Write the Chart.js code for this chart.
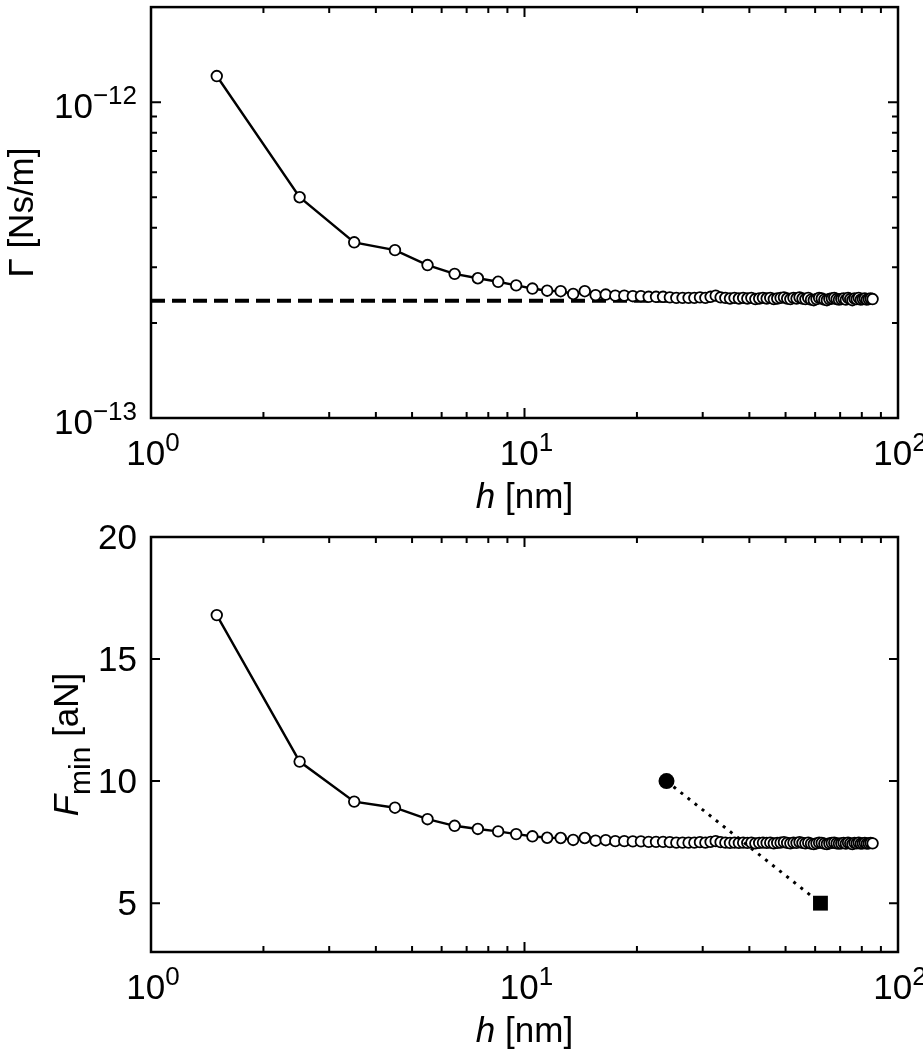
<!DOCTYPE html>
<html>
<head>
<meta charset="utf-8">
<script src="https://cdn.jsdelivr.net/npm/chart.js@4/dist/chart.umd.min.js"></script>
<style>
  html, body { margin: 0; padding: 0; background: #fff; }
  canvas { display: block; }
</style>
</head>
<body>
<canvas id="gammaChart" width="923" height="525"></canvas>
<canvas id="forceChart" width="923" height="525"></canvas>
<script>
// gap h [nm]
const hValues = [
  1.5, 2.5, 3.5, 4.5, 5.5, 6.5, 7.5, 8.5, 9.5, 10.5,
  11.5, 12.5, 13.5, 14.5, 15.5, 16.5, 17.5, 18.5, 19.5, 20.5,
  21.5, 22.5, 23.5, 24.5, 25.5, 26.5, 27.5, 28.5, 29.5, 30.5,
  31.5, 32.5, 33.5, 34.5, 35.5, 36.5, 37.5, 38.5, 39.5, 40.5,
  41.5, 42.5, 43.5, 44.5, 45.5, 46.5, 47.5, 48.5, 49.5, 50.5,
  51.5, 52.5, 53.5, 54.5, 55.5, 56.5, 57.5, 58.5, 59.5, 60.5,
  61.5, 62.5, 63.5, 64.5, 65.5, 66.5, 67.5, 68.5, 69.5, 70.5,
  71.5, 72.5, 73.5, 74.5, 75.5, 76.5, 77.5, 78.5, 79.5, 80.5,
  81.5, 82.5, 83.5, 84.5, 85.5
];

// damping Gamma, in units of 1e-13 Ns/m
const GAMMA_UNIT = 1e-13;
const gammaValues = [
  12.1, 5.00, 3.60, 3.40, 3.05, 2.86, 2.77, 2.70, 2.63, 2.57,
  2.53, 2.52, 2.47, 2.52, 2.45, 2.46, 2.44, 2.44, 2.43, 2.43,
  2.42, 2.42, 2.42, 2.41, 2.40, 2.40, 2.40, 2.40, 2.41, 2.40,
  2.42, 2.44, 2.41, 2.40, 2.39, 2.40, 2.39, 2.40, 2.39, 2.40,
  2.38, 2.39, 2.40, 2.39, 2.40, 2.38, 2.39, 2.40, 2.41, 2.39,
  2.38, 2.40, 2.39, 2.41, 2.39, 2.38, 2.40, 2.37, 2.36, 2.38,
  2.40, 2.39, 2.37, 2.36, 2.38, 2.39, 2.40, 2.38, 2.37, 2.38,
  2.39, 2.37, 2.40, 2.38, 2.36, 2.39, 2.38, 2.40, 2.37, 2.38,
  2.39, 2.37, 2.38, 2.39, 2.38
];
const gammaBulk = 2.35;
const bulkRange = [1, 87.5];

// minimum detectable force [aN]
const fminValues = [
  16.80, 10.80, 9.16, 8.91, 8.44, 8.17, 8.04, 7.94, 7.83, 7.74,
  7.68, 7.67, 7.59, 7.67, 7.56, 7.58, 7.54, 7.54, 7.53, 7.53,
  7.51, 7.51, 7.51, 7.50, 7.48, 7.48, 7.48, 7.48, 7.50, 7.48,
  7.51, 7.54, 7.50, 7.48, 7.47, 7.48, 7.47, 7.48, 7.47, 7.48,
  7.45, 7.47, 7.48, 7.47, 7.48, 7.45, 7.47, 7.48, 7.50, 7.47,
  7.45, 7.48, 7.47, 7.50, 7.47, 7.45, 7.48, 7.44, 7.42, 7.45,
  7.48, 7.47, 7.44, 7.42, 7.45, 7.47, 7.48, 7.45, 7.44, 7.45,
  7.47, 7.44, 7.48, 7.45, 7.42, 7.47, 7.45, 7.48, 7.44, 7.45,
  7.47, 7.44, 7.45, 7.47, 7.45
];
const refH = [24, 62];
const refF = [10, 5];

// ticks
const xMajorTicks = [1, 10, 100];
const xTickExponents = ['0', '1', '2'];
const xMinorTicks = [2, 3, 4, 5, 6, 7, 8, 9, 20, 30, 40, 50, 60, 70, 80, 90];
const gammaMajorTicks = [1e-13, 1e-12];
const gammaTickExponents = ['\u221213', '\u221212'];
const gammaMinorTicks = [2e-13, 3e-13, 4e-13, 5e-13, 6e-13, 7e-13, 8e-13, 9e-13];
const fminTicks = [5, 10, 15, 20];

const FAM = '"Liberation Sans", Arial, sans-serif';
const BASE = '35px ' + FAM;
const SUP = '26px ' + FAM;
const ITAL = 'italic 35px ' + FAM;
const SUB = '30px ' + FAM;

function runsWidth(ctx, runs) {
  let w = 0;
  runs.forEach(r => { ctx.font = r.font; w += ctx.measureText(r.text).width; });
  return w;
}

function drawRuns(ctx, runs, x, y) {
  runs.forEach(r => {
    ctx.font = r.font;
    ctx.fillText(r.text, x, y + (r.dy || 0));
    x += ctx.measureText(r.text).width;
  });
}

function powRuns(exp) {
  return [{ text: '10', font: BASE }, { text: exp, font: SUP, dy: -14 }];
}

function axesPlugin(cfg) {
  return {
    id: 'axesFrame',
    afterDraw(chart) {
      const ctx = chart.ctx, a = chart.chartArea;
      const xs = chart.scales.x, ys = chart.scales.y;
      ctx.save();
      ctx.strokeStyle = '#000';
      ctx.fillStyle = '#000';
      ctx.lineWidth = 2;
      ctx.beginPath();
      const vtick = (v, len) => {
        const p = xs.getPixelForValue(v);
        ctx.moveTo(p, a.bottom); ctx.lineTo(p, a.bottom - len);
        ctx.moveTo(p, a.top); ctx.lineTo(p, a.top + len);
      };
      const htick = (v, len) => {
        const p = ys.getPixelForValue(v);
        ctx.moveTo(a.left, p); ctx.lineTo(a.left + len, p);
        ctx.moveTo(a.right, p); ctx.lineTo(a.right - len, p);
      };
      xMajorTicks.forEach(v => vtick(v, 10));
      xMinorTicks.forEach(v => vtick(v, 6));
      cfg.yMajor.forEach(v => htick(v, cfg.yMajorLen));
      cfg.yMinor.forEach(v => htick(v, 6));
      ctx.stroke();

      ctx.lineWidth = 2.5;
      ctx.strokeRect(a.left, a.top, a.right - a.left, a.bottom - a.top);

      ctx.textAlign = 'left';
      ctx.textBaseline = 'alphabetic';

      // x tick labels
      xMajorTicks.forEach((v, i) => {
        const runs = powRuns(xTickExponents[i]);
        const w = runsWidth(ctx, runs);
        drawRuns(ctx, runs, xs.getPixelForValue(v) - w / 2 + 2, a.bottom + 47);
      });

      // y tick labels
      cfg.yMajor.forEach((v, i) => {
        const runs = cfg.yLabel(i);
        const w = runsWidth(ctx, runs);
        drawRuns(ctx, runs, a.left - 14 - w, ys.getPixelForValue(v) + cfg.yLabelDy);
      });

      // x title
      const xt = [{ text: 'h', font: ITAL }, { text: ' [nm]', font: BASE }];
      const xw = runsWidth(ctx, xt);
      drawRuns(ctx, xt, (a.left + a.right) / 2 - xw / 2, a.bottom + 90);

      // y title
      const yw = runsWidth(ctx, cfg.yTitle);
      ctx.translate(cfg.yTitleX, (a.top + a.bottom) / 2);
      ctx.rotate(-Math.PI / 2);
      drawRuns(ctx, cfg.yTitle, -yw / 2, 0);
      ctx.restore();
    }
  };
}

function baseOptions(padding, yScale) {
  return {
    responsive: false,
    animation: false,
    layout: { padding: padding },
    plugins: { legend: { display: false }, tooltip: { enabled: false } },
    scales: {
      x: { type: 'logarithmic', min: 1, max: 100, display: false },
      y: Object.assign({ display: false }, yScale)
    }
  };
}

new Chart(document.getElementById('gammaChart'), {
  type: 'line',
  data: {
    datasets: [
      {
        data: hValues.map((h, i) => ({ x: h, y: gammaValues[i] * GAMMA_UNIT })),
        borderColor: '#000',
        borderWidth: 2.4,
        pointRadius: 5.3,
        pointBorderWidth: 1.8,
        pointBackgroundColor: '#fff',
        pointBorderColor: '#000',
        tension: 0
      },
      {
        data: bulkRange.map(h => ({ x: h, y: gammaBulk * GAMMA_UNIT })),
        borderColor: '#000',
        borderWidth: 4,
        borderDash: [14, 7],
        pointRadius: 0
      }
    ]
  },
  options: baseOptions({ left: 151, right: 25, top: 1.5, bottom: 107 },
    { type: 'logarithmic', min: 1e-13, max: 2e-12 }),
  plugins: [axesPlugin({
    yMajor: gammaMajorTicks,
    yMinor: gammaMinorTicks,
    yMajorLen: 10,
    yLabel: i => powRuns(gammaTickExponents[i]),
    yLabelDy: 16,
    yTitleX: 33,
    yTitle: [{ text: '\u0393 [Ns/m]', font: BASE }]
  })]
});

new Chart(document.getElementById('forceChart'), {
  type: 'line',
  data: {
    datasets: [
      {
        data: refH.map((h, i) => ({ x: h, y: refF[i] })),
        borderColor: '#000',
        borderWidth: 3,
        borderDash: [3, 6],
        pointStyle: ['circle', 'rect'],
        pointRadius: [8, 10.5],
        pointBorderWidth: 0,
        pointBackgroundColor: '#000',
        pointBorderColor: '#000'
      },
      {
        data: hValues.map((h, i) => ({ x: h, y: fminValues[i] })),
        borderColor: '#000',
        borderWidth: 2.4,
        pointRadius: 5.3,
        pointBorderWidth: 1.8,
        pointBackgroundColor: '#fff',
        pointBorderColor: '#000',
        tension: 0
      }
    ]
  },
  options: baseOptions({ left: 151, right: 25, top: 12, bottom: 98 },
    { type: 'linear', min: 3, max: 20 }),
  plugins: [axesPlugin({
    yMajor: fminTicks,
    yMinor: [],
    yMajorLen: 9,
    yLabel: i => [{ text: String(fminTicks[i]), font: BASE }],
    yLabelDy: 12,
    yTitleX: 78,
    yTitle: [
      { text: 'F', font: ITAL },
      { text: 'min', font: SUB, dy: 12 },
      { text: ' [aN]', font: BASE }
    ]
  })]
});
</script>
</body>
</html>
